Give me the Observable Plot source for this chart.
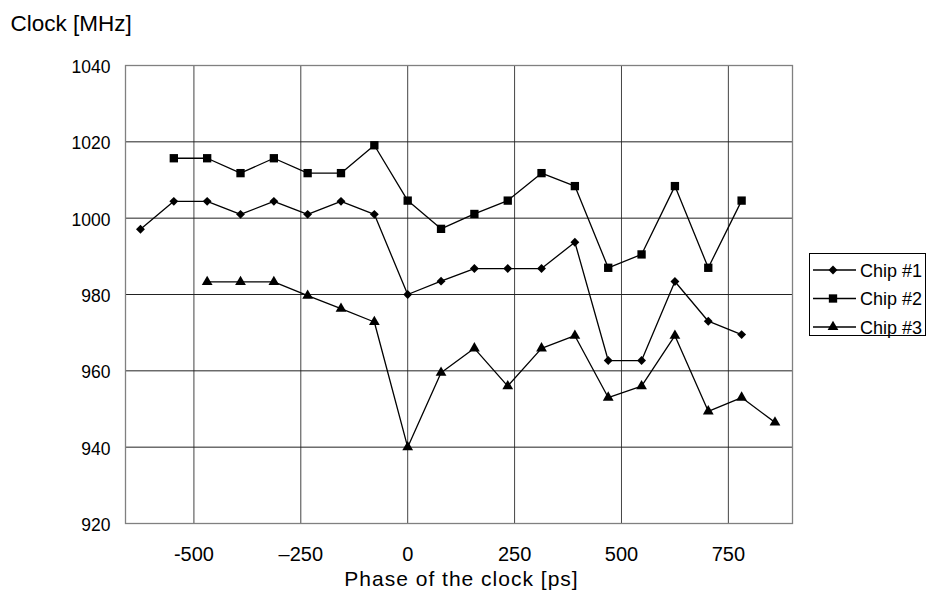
<!DOCTYPE html>
<html><head><meta charset="utf-8">
<script src="https://cdn.jsdelivr.net/npm/d3@7"></script>
<script src="https://cdn.jsdelivr.net/npm/@observablehq/plot@0.6"></script>
<style>
body{margin:0;background:#fff;}
svg{display:block;}
</style>
</head><body><div id="chart"></div>
<script>
// Phase of the clock [ps] for each measurement position
const phases = [-625, -547, -469, -391, -313, -234, -156, -78, 0, 78, 156, 234, 313, 391, 469, 547, 625, 703, 781, 859];
// Clock [MHz] per chip (null = not measured)
const chip1 = [997.1, 1004.4, 1004.4, 1001.0, 1004.4, 1001.0, 1004.4, 1001.0, 980.0, 983.5, 986.8, 986.8, 986.8, 993.7, 962.7, 962.7, 983.4, 973.0, 969.5, null];
const chip2 = [null, 1015.7, 1015.7, 1011.8, 1015.7, 1011.8, 1011.8, 1019.1, 1004.6, 997.2, 1001.1, 1004.6, 1011.8, 1008.4, 987.0, 990.5, 1008.4, 987.0, 1004.6, null];
const chip3 = [null, null, 983.3, 983.3, 983.3, 979.7, 976.3, 972.8, 940.0, 959.5, 965.9, 956.0, 965.9, 969.2, 953.0, 956.0, 969.2, 949.4, 953.0, 946.5];
const seriesNames = ["Chip #1", "Chip #2", "Chip #3"];
const seriesSymbols = ["diamond2", "square", "triangle"];
const yTicks = [920, 940, 960, 980, 1000, 1020, 1040];
const xTicks = [-500, -250, 0, 250, 500, 750];
const xTickLabels = ["-500", "\u2013250", "0", "250", "500", "750"];
const titleText = "Clock [MHz]";
const xLabelText = "Phase of the clock [ps]";

const seriesValues = [chip1, chip2, chip3];
const rows = [];
seriesValues.forEach((vals, s) => vals.forEach((v, i) => {
  if (v != null) rows.push({phase: phases[i], clock: v, chip: seriesNames[s]});
}));

const symbolSize = {diamond2: 4.0, square: 4.7, triangle: 4.0};
const font = "'Liberation Sans', Arial, sans-serif";

const plot = Plot.plot({
  width: 932, height: 599,
  marginLeft: 125, marginRight: 140, marginTop: 65, marginBottom: 76,
  x: {domain: [-660, 900]},
  y: {domain: [920, 1040]},
  style: {fontFamily: font, background: "#fff", color: "#000"},
  marks: [
    Plot.gridX(xTicks, {stroke: "#444", strokeOpacity: 1, strokeWidth: 1}),
    Plot.gridY(yTicks.filter(t => t > 920 && t < 1040), {stroke: "#222", strokeOpacity: 1, strokeWidth: 1}),
    Plot.frame({stroke: "#808080", strokeWidth: 1.3}),
    Plot.axisY(yTicks, {tickSize: 0, tickPadding: 15, fontSize: 17.5, label: null, dy: 2,
      tickFormat: d => String(d)}),
    Plot.axisX(xTicks, {tickSize: 0, tickPadding: 23, fontSize: 20, label: null,
      tickFormat: d => xTickLabels[xTicks.indexOf(d)]}),
    Plot.line(rows, {x: "phase", y: "clock", z: "chip", stroke: "#000", strokeWidth: 1.3}),
    ...seriesNames.map((n, k) => Plot.dot(rows.filter(r => r.chip === n), {
      x: "phase", y: "clock", symbol: seriesSymbols[k], r: symbolSize[seriesSymbols[k]], fill: "#000", stroke: "none"
    })),
    Plot.text([titleText], {frameAnchor: "top-left", dx: -115, dy: -35, textAnchor: "start", lineAnchor: "bottom", fontSize: 22.5, fill: "#000"}),
    Plot.text([xLabelText], {frameAnchor: "bottom", dx: 2.5, dy: 62, textAnchor: "middle", lineAnchor: "bottom", fontSize: 21, fill: "#000"})
  ]
});

document.getElementById("chart").appendChild(plot);

const svg = d3.select(plot);
svg.selectAll("text").filter(function() { return this.textContent === xLabelText; }).attr("letter-spacing", "1px");

// Legend
const symTypes = {diamond2: d3.symbolDiamond2, square: d3.symbolSquare, triangle: d3.symbolTriangle};
const lg = svg.append("g").attr("font-family", font).attr("text-anchor", "start");
lg.append("rect").attr("x", 809.5).attr("y", 253.5).attr("width", 116).attr("height", 82)
  .attr("fill", "#fff").attr("stroke", "#000").attr("stroke-width", 1);
seriesNames.forEach((n, k) => {
  const cy = 270 + k * 28.5;
  const s = seriesSymbols[k];
  lg.append("line").attr("x1", 813).attr("x2", 856).attr("y1", cy).attr("y2", cy)
    .attr("stroke", "#000").attr("stroke-width", 1.3);
  lg.append("path").attr("d", d3.symbol(symTypes[s], Math.PI * symbolSize[s] ** 2)())
    .attr("transform", `translate(833,${cy})`).attr("fill", "#000");
  lg.append("text").attr("x", 860).attr("y", cy + 6.5).attr("font-size", 18)
    .attr("text-anchor", "start").attr("fill", "#000").text(n);
});
</script>
</body></html>
